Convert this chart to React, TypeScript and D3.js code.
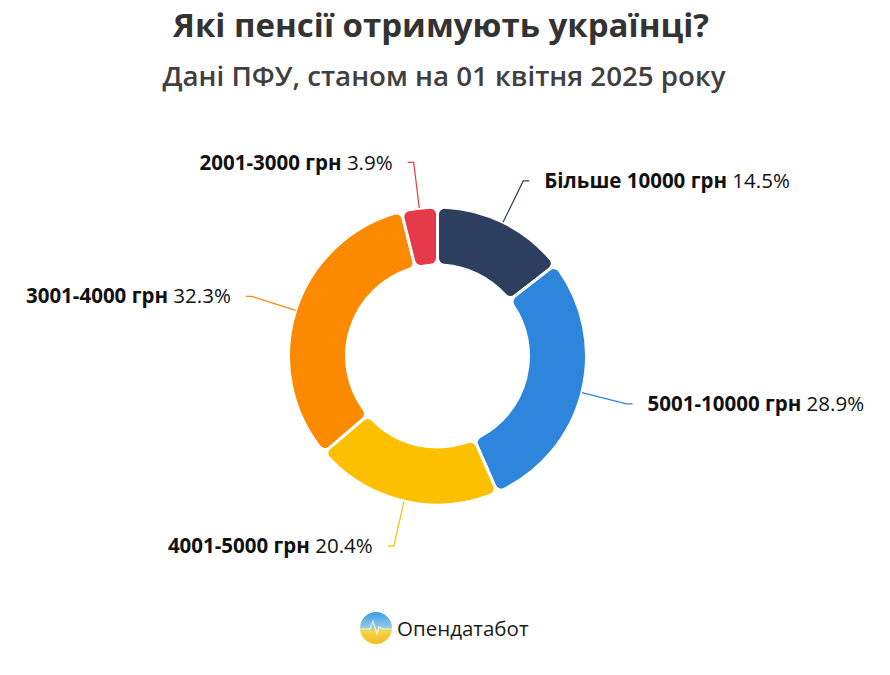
import React from "react";
import * as d3 from "d3";

// data (share of pensioners, %)
const categories = ["Більше 10000 грн", "5001-10000 грн", "4001-5000 грн", "3001-4000 грн", "2001-3000 грн"];
const shares = [14.5, 28.9, 20.4, 32.3, 3.9];
const colors = ["#2d3e5e", "#2e85dc", "#fcc000", "#fb8a00", "#e53a4a"];

const width = 890;
const height = 675;
const cx = 437.5;
const cy = 356;
const outerR = 149;
const innerR = 91;
const len1 = 46;
const len2 = 6;
const font = "'Open Sans', 'Noto Sans', sans-serif";

export default function App() {
  const pie = d3.pie<number>().sort(null).value((d) => d).startAngle(0).endAngle(2 * Math.PI);
  const arcs = pie(shares);

  const arc = d3.arc<d3.PieArcDatum<number>>()
    .innerRadius(innerR)
    .outerRadius(outerR)
    .cornerRadius(7);

  // label lines go radially out from the slice, then a short horizontal tail
  const labels = arcs.map((a, i) => {
    const mid = (a.startAngle + a.endAngle) / 2;
    const sx = Math.sin(mid), sy = -Math.cos(mid);
    const p0 = [cx + outerR * sx, cy + outerR * sy];
    const p1 = [cx + (outerR + len1) * sx, cy + (outerR + len1) * sy];
    const right = sx >= 0;
    const p2 = [p1[0] + (right ? len2 : -len2), p1[1]];
    const tx = p2[0] + (right ? 15 : -15);
    return { i, p0, p1, p2, tx, right };
  });

  return (
    <svg width={width} height={height} style={{ display: "block", position: "absolute", left: 0, top: 0, background: "#fff" }}>
      <text x={441} y={37} textAnchor="middle" fontFamily={font} fontWeight={700} fontSize={33} fill="#333">
        Які пенсії отримують українці?
      </text>
      <text x={444} y={86} textAnchor="middle" fontFamily={font} fontWeight={600} fontSize={27.7} fill="#404040">
        Дані ПФУ, станом на 01 квітня 2025 року
      </text>

      <g transform={`translate(${cx},${cy})`}>
        {arcs.map((a, i) => (
          <path key={i} d={arc(a) || ""} fill={colors[i]} stroke="#fff" strokeWidth={3} strokeLinejoin="round" />
        ))}
      </g>

      {labels.map((l) => (
        <g key={l.i}>
          <polyline
            points={[l.p0, l.p1, l.p2].map((p) => p.join(",")).join(" ")}
            fill="none"
            stroke={colors[l.i]}
            strokeWidth={1.2}
          />
          <text
            x={l.tx}
            y={l.p1[1]}
            dy="0.35em"
            textAnchor={l.right ? "start" : "end"}
            fontFamily={font}
            fontSize={20.5}
            fill="#111"
          >
            <tspan fontWeight={700}>{categories[l.i]}</tspan>
            <tspan fontWeight={400}> {shares[l.i].toFixed(1)}%</tspan>
          </text>
        </g>
      ))}

      <defs>
        <linearGradient id="logoGrad" x1="0" y1="0" x2="0" y2="1">
          <stop offset="0%" stopColor="#3a9be6" />
          <stop offset="45%" stopColor="#8cc8e8" />
          <stop offset="60%" stopColor="#f5d54a" />
          <stop offset="100%" stopColor="#f2b81c" />
        </linearGradient>
      </defs>
      <g transform="translate(376,628)">
        <circle r={16} fill="url(#logoGrad)" />
        <polyline points="-16,1 -6,1 -3,-7 1,6 3,-1 6,1 16,1" fill="none" stroke="#fff" strokeWidth={1.2} opacity={0.8} />
      </g>
      <text x={397} y={629} dy="0.35em" fontFamily={font} fontSize={20.5} fill="#1a1a1a">
        Опендатабот
      </text>
    </svg>
  );
}
